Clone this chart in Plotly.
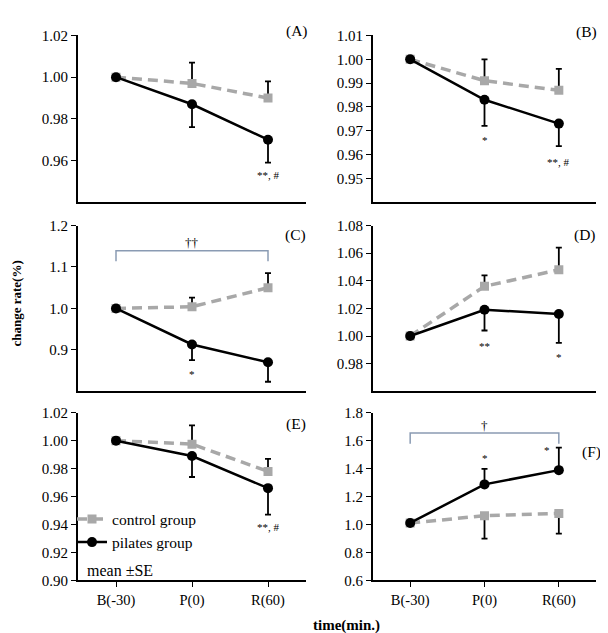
import plotly.graph_objects as go

categories = ["B(-30)", "P(0)", "R(60)"]

# mean values and SE for each panel (control / pilates)
control_A = [1.000, 0.997, 0.990]
control_se_A = [0.0, 0.010, 0.008]
pilates_A = [1.000, 0.987, 0.970]
pilates_se_A = [0.0, 0.011, 0.011]

control_B = [1.000, 0.991, 0.987]
control_se_B = [0.0, 0.009, 0.009]
pilates_B = [1.000, 0.983, 0.973]
pilates_se_B = [0.0, 0.011, 0.0095]

control_C = [1.000, 1.004, 1.050]
control_se_C = [0.0, 0.022, 0.035]
pilates_C = [1.000, 0.913, 0.870]
pilates_se_C = [0.0, 0.038, 0.047]

control_D = [1.000, 1.036, 1.048]
control_se_D = [0.0, 0.008, 0.016]
pilates_D = [1.000, 1.019, 1.016]
pilates_se_D = [0.0, 0.015, 0.021]

control_E = [1.000, 0.9975, 0.978]
control_se_E = [0.0, 0.0135, 0.009]
pilates_E = [1.000, 0.989, 0.966]
pilates_se_E = [0.0, 0.015, 0.019]

control_F = [1.010, 1.063, 1.079]
control_se_F = [0.0, 0.164, 0.145]
pilates_F = [1.011, 1.287, 1.389]
pilates_se_F = [0.0, 0.111, 0.161]

ticks_A = [0.96, 0.98, 1.00, 1.02]
ticks_B = [0.95, 0.96, 0.97, 0.98, 0.99, 1.00, 1.01]
ticks_C = [0.9, 1.0, 1.1, 1.2]
ticks_D = [0.98, 1.00, 1.02, 1.04, 1.06, 1.08]
ticks_E = [0.90, 0.92, 0.94, 0.96, 0.98, 1.00, 1.02]
ticks_F = [0.6, 0.8, 1.0, 1.2, 1.4, 1.6, 1.8]

panels = [
    # label, control, cse, pilates, pse, range, ticks, fmt, pilates_up
    ("(A)", control_A, control_se_A, pilates_A, pilates_se_A, [0.94, 1.02], ticks_A, "{:.2f}", False),
    ("(B)", control_B, control_se_B, pilates_B, pilates_se_B, [0.94, 1.01], ticks_B, "{:.2f}", False),
    ("(C)", control_C, control_se_C, pilates_C, pilates_se_C, [0.8, 1.2], ticks_C, "{:.1f}", False),
    ("(D)", control_D, control_se_D, pilates_D, pilates_se_D, [0.96, 1.08], ticks_D, "{:.2f}", False),
    ("(E)", control_E, control_se_E, pilates_E, pilates_se_E, [0.90, 1.02], ticks_E, "{:.2f}", False),
    ("(F)", control_F, control_se_F, pilates_F, pilates_se_F, [0.6, 1.8], ticks_F, "{:.1f}", True),
]

W, H = 608, 633
def px(x):
    return x / W
def py(y):
    return 1 - y / H

xdomains = [[px(70), px(298)], [px(365), px(588)]]
ydomains = [[py(191), py(20)], [py(385), py(215)], [py(579), py(407)]]

GRAY = "#a8a8a8"
FONT = "Liberation Serif"

fig = go.Figure()
layout = {}
for i, (lab, c, cse, p, pse, rng, tks, fmt, pup) in enumerate(panels):
    n = i + 1
    xa = "x" if n == 1 else f"x{n}"
    ya = "y" if n == 1 else f"y{n}"
    col = i % 2
    row = i // 2
    zeros = [0.0] * len(categories)
    show = (n == 5)
    fig.add_trace(go.Scatter(
        x=categories, y=c, xaxis=xa, yaxis=ya, mode="lines+markers",
        name="control group", showlegend=show, legendrank=1,
        line=dict(color=GRAY, width=3.5, dash="10px,6px"),
        marker=dict(symbol="square", size=9, color=GRAY),
        error_y=dict(type="data", symmetric=False,
                     array=zeros if pup else cse,
                     arrayminus=cse if pup else zeros,
                     color="black", thickness=1.8, width=3),
    ))
    fig.add_trace(go.Scatter(
        x=categories, y=p, xaxis=xa, yaxis=ya, mode="lines+markers",
        name="pilates group", showlegend=show, legendrank=2,
        line=dict(color="black", width=2.5),
        marker=dict(symbol="circle", size=10, color="black"),
        error_y=dict(type="data", symmetric=False,
                     array=pse if pup else zeros,
                     arrayminus=zeros if pup else pse,
                     color="black", thickness=1.8, width=3),
    ))
    bottom = (row == 2)
    layout["xaxis" if n == 1 else f"xaxis{n}"] = dict(
        domain=xdomains[col], anchor=ya, type="category",
        categoryorder="array", categoryarray=categories,
        range=[-0.5, 2.5],
        showline=True, linecolor="black", linewidth=2,
        ticks="outside" if bottom else "", ticklen=5, tickwidth=1, tickcolor="black",
        showticklabels=bottom, showgrid=False, zeroline=False,
        tickfont=dict(family=FONT, size=14.5, color="black"),
    )
    layout["yaxis" if n == 1 else f"yaxis{n}"] = dict(
        domain=ydomains[row], anchor=xa, range=rng,
        tickvals=tks, ticktext=[fmt.format(t) for t in tks],
        showline=True, linecolor="black", linewidth=2,
        ticks="outside", ticklen=5, tickwidth=1, tickcolor="black",
        showgrid=False, zeroline=False,
        tickfont=dict(family=FONT, size=15, color="black"),
    )

annotations = []
label_pos = [(289, 15), (578, 16), (287, 225), (577, 225), (288, 419), (583, 447)]
for (lab, *_), (lx, ly) in zip(panels, label_pos):
    annotations.append(dict(text=lab, x=px(lx), y=py(ly), xref="paper", yref="paper",
                            xanchor="center", yanchor="middle",
                            showarrow=False, font=dict(family=FONT, size=15.5, color="black")))

sig = [
    ("x", "y", 2, 0.9544, "**, #", 0),
    ("x2", "y2", 1, 0.9674, "*", 0),
    ("x2", "y2", 2, 0.958, "**, #", 0),
    ("x3", "y3", 1, 0.850, "*", 0),
    ("x4", "y4", 1, 0.9946, "**", 0),
    ("x4", "y4", 2, 0.987, "*", 0),
    ("x5", "y5", 2, 0.940, "**, #", 0),
    ("x6", "y6", 1, 1.495, "*", 0),
    ("x6", "y6", 2, 1.556, "*", -12),
]
for xr, yr, xi, yv, t, xs in sig:
    annotations.append(dict(text=t, x=xi, y=yv, xref=xr, yref=yr, xshift=xs, yshift=-3,
                            xanchor="center", yanchor="middle",
                            showarrow=False, font=dict(family=FONT, size=11, color="black")))

# brackets
BRK = "#8a9bb3"
brackets = [("x3", "y3", 1.1395, 1.114, "\u2020\u2020", 1.160),
            ("x6", "y6", 1.655, 1.578, "\u2020", 1.711)]
shapes = []
for xr, yr, top, end, t, ty in brackets:
    shapes.append(dict(type="path", xref=xr, yref=yr,
                       path=f"M 0,{end} L 0,{top} L 2,{top} L 2,{end}",
                       line=dict(color=BRK, width=1.5)))
    annotations.append(dict(text=t, x=1, y=ty, xref=xr, yref=yr, showarrow=False,
                            xanchor="center", yanchor="middle",
                            font=dict(family=FONT, size=13, color="black")))

annotations.append(dict(text="mean \u00b1SE", x=px(77), y=py(569), xref="paper", yref="paper",
                        xanchor="left", yanchor="middle", showarrow=False,
                        font=dict(family=FONT, size=16, color="black")))
annotations.append(dict(text="<b>change rate(%)</b>", x=px(9), y=py(295), xref="paper", yref="paper",
                        xanchor="center", yanchor="middle",
                        textangle=-90, showarrow=False,
                        font=dict(family=FONT, size=13, color="black")))
annotations.append(dict(text="<b>time(min.)</b>", x=px(338), y=py(625), xref="paper", yref="paper",
                        xanchor="center", yanchor="middle",
                        showarrow=False, font=dict(family=FONT, size=15, color="black")))

fig.update_layout(
    width=W, height=H, margin=dict(l=0, r=0, t=0, b=0),
    paper_bgcolor="white", plot_bgcolor="white",
    showlegend=True,
    legend=dict(x=px(64), y=py(499), xanchor="left", yanchor="top",
                bgcolor="rgba(0,0,0,0)", font=dict(family=FONT, size=15.5, color="black"),
                itemwidth=30, tracegroupgap=0),
    annotations=annotations, shapes=shapes,
    **layout,
)

fig.write_html("out.html")
